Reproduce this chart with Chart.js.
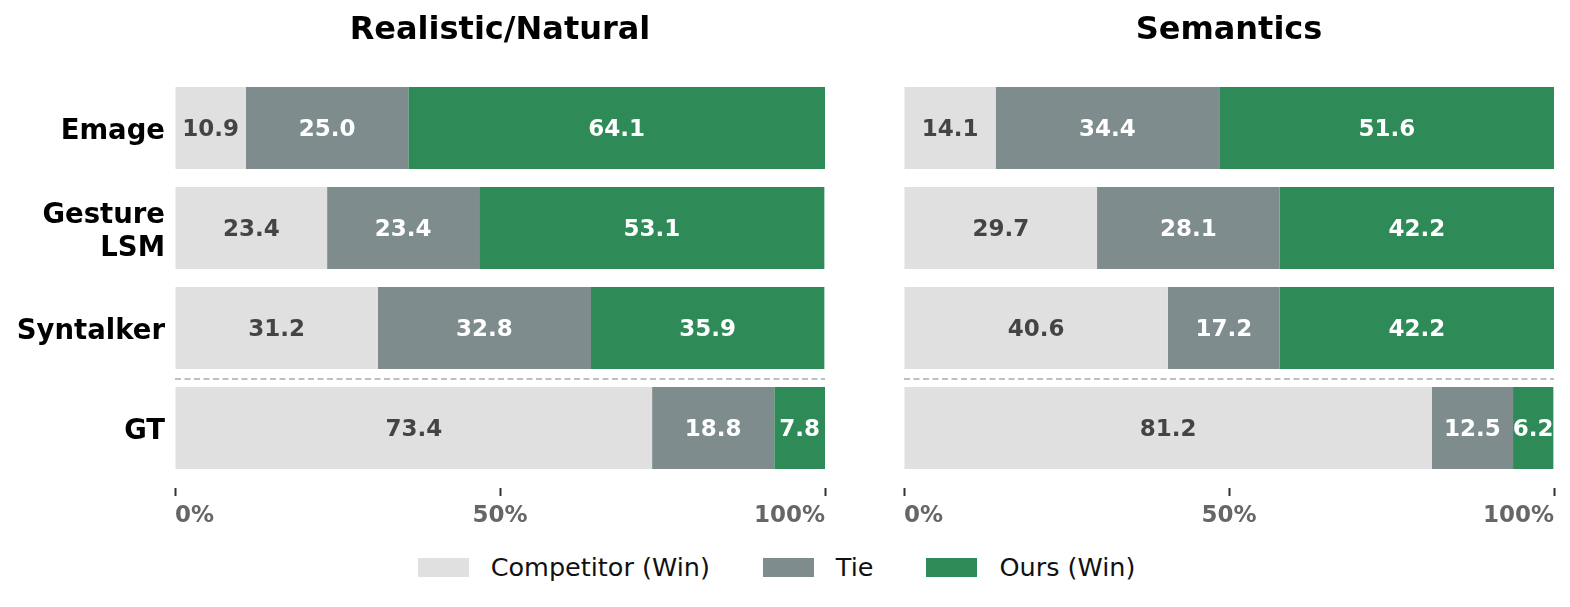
<!DOCTYPE html>
<html>
<head>
<meta charset="utf-8">
<script src="https://cdn.jsdelivr.net/npm/chart.js@4/dist/chart.umd.min.js"></script>
<style>
  html, body { margin: 0; padding: 0; background: #fff; }
  body { width: 1570px; height: 607px; position: relative; overflow: hidden; font-family: "DejaVu Sans", sans-serif; }
  .panel { position: absolute; top: 0; height: 540px; }
  #leftWrap { left: 0; width: 850px; }
  #rightWrap { left: 850px; width: 720px; }
  #legend { position: absolute; left: 0; width: 1553px; top: 552px; height: 30px; display: flex; justify-content: center; align-items: center; }
  .item { display: flex; align-items: center; margin: 0 26.5px; font-size: 25.5px; color: #111; }
  .box { width: 51px; height: 19px; margin-right: 22px; }
</style>
</head>
<body>
<div class="panel" id="leftWrap"><canvas id="left"></canvas></div>
<div class="panel" id="rightWrap"><canvas id="right"></canvas></div>
<div id="legend"></div>
<script>
  // categorias y series
  const categories = ['Emage', ['Gesture', 'LSM'], 'Syntalker', 'GT'];
  const seriesNames = ['Competitor (Win)', 'Tie', 'Ours (Win)'];
  const seriesColors = ['#e0e0e0', '#7f8c8d', '#2e8b57'];
  const labelColors = ['#444444', '#ffffff', '#ffffff'];

  const realCompetitor = [10.9, 23.4, 31.2, 73.4];
  const realTie        = [25.0, 23.4, 32.8, 18.8];
  const realOurs       = [64.1, 53.1, 35.9, 7.8];

  const semCompetitor = [14.1, 29.7, 40.6, 81.2];
  const semTie        = [34.4, 28.1, 17.2, 12.5];
  const semOurs       = [51.6, 42.2, 42.2, 6.2];

  const xTicks = [0, 50, 100];
  const FONT = '"DejaVu Sans", sans-serif';

  // rótulos dentro de cada segmento
  const valueLabels = {
    id: 'valueLabels',
    afterDatasetsDraw(chart) {
      const ctx = chart.ctx;
      ctx.save();
      ctx.font = 'bold 23px ' + FONT;
      ctx.textAlign = 'center';
      ctx.textBaseline = 'middle';
      chart.data.datasets.forEach((ds, i) => {
        const meta = chart.getDatasetMeta(i);
        meta.data.forEach((el, j) => {
          const v = ds.data[j];
          ctx.fillStyle = labelColors[i];
          ctx.fillText(v.toFixed(1), (el.x + el.base) / 2, el.y + 2.5);
        });
      });
      ctx.restore();
    }
  };

  // línea punteada entre Syntalker y GT
  const separator = {
    id: 'separator',
    afterDatasetsDraw(chart) {
      const y = chart.scales.y;
      const yy = (y.getPixelForValue(2) + y.getPixelForValue(3)) / 2 + 1;
      const ctx = chart.ctx, a = chart.chartArea;
      ctx.save();
      ctx.strokeStyle = '#aaaaaa';
      ctx.lineWidth = 1.5;
      ctx.setLineDash([6, 3.5]);
      ctx.beginPath();
      ctx.moveTo(a.left, yy);
      ctx.lineTo(a.right, yy);
      ctx.stroke();
      ctx.restore();
    }
  };

  // título centrado sobre el área del gráfico
  const panelTitle = {
    id: 'panelTitle',
    afterDraw(chart, args, opts) {
      const ctx = chart.ctx, a = chart.chartArea;
      ctx.save();
      ctx.font = 'bold 32px ' + FONT;
      ctx.fillStyle = '#000';
      ctx.textAlign = 'center';
      ctx.textBaseline = 'alphabetic';
      ctx.fillText(opts.text, (a.left + a.right) / 2, 39);
      ctx.restore();
    }
  };

  function makeChart(id, title, comp, tie, ours, showY, pad) {
    const data = [comp, tie, ours];
    return new Chart(document.getElementById(id), {
      type: 'bar',
      data: {
        labels: categories,
        datasets: data.map((d, i) => ({
          label: seriesNames[i], data: d,
          backgroundColor: seriesColors[i], borderWidth: 0,
          barPercentage: 0.82, categoryPercentage: 1
        }))
      },
      options: {
        indexAxis: 'y',
        responsive: true, maintainAspectRatio: false,
        animation: false,
        layout: { padding: pad },
        plugins: {
          legend: { display: false },
          tooltip: { enabled: false },
          title: { display: false },
          panelTitle: { text: title }
        },
        scales: {
          x: {
            stacked: true, min: 0, max: 100,
            afterBuildTicks: (s) => { s.ticks = xTicks.map(v => ({ value: v })); },
            afterFit: (s) => { s.height = 62; },
            border: { display: false },
            grid: {
              drawOnChartArea: false, drawTicks: true, tickLength: 18,
              tickWidth: 2, tickColor: '#333', tickBorderDash: [0, 10, 8, 100]
            },
            ticks: {
              align: 'inner', padding: 6, color: '#666',
              font: { family: FONT, size: 23, weight: 'bold' },
              callback: (v) => v + '%'
            }
          },
          y: {
            stacked: true, offset: true,
            display: showY,
            afterFit: (s) => { if (showY) s.width = 175; },
            border: { display: false },
            grid: { display: false, drawTicks: false },
            ticks: {
              padding: 10, color: '#000', labelOffset: 4,
              font: { family: FONT, size: 27.5, weight: 'bold', lineHeight: 1.2 }
            }
          }
        }
      },
      plugins: [valueLabels, separator, panelTitle]
    });
  }

  makeChart('left', 'Realistic/Natural', realCompetitor, realTie, realOurs, true,
    { left: 0, right: 25, top: 78, bottom: 0 });
  makeChart('right', 'Semantics', semCompetitor, semTie, semOurs, false,
    { left: 54, right: 16, top: 78, bottom: 0 });

  // leyenda
  const leg = document.getElementById('legend');
  seriesNames.forEach((n, i) => {
    const it = document.createElement('div'); it.className = 'item';
    it.innerHTML = `<span class="box" style="background:${seriesColors[i]}"></span><span>${n}</span>`;
    leg.appendChild(it);
  });
</script>
</body>
</html>
